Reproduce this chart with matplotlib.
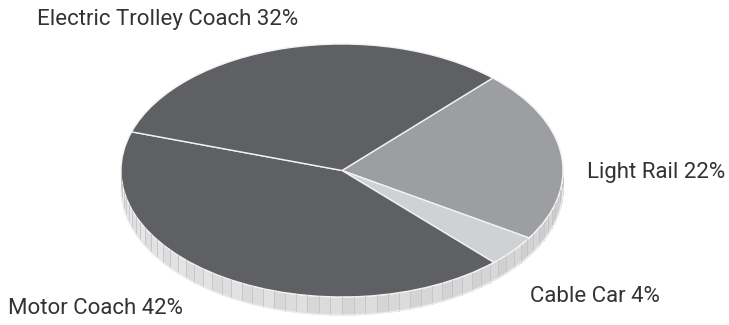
import numpy as np
import matplotlib.pyplot as plt

# ridership share by mode
modes = ['Light Rail', 'Cable Car', 'Motor Coach', 'Electric Trolley Coach']
shares = [22, 4, 42, 32]
colors = ['#9d9ea2', '#d0d1d3', '#5f6064', '#5f6064']
labels = ['Light Rail 22%', 'Cable Car 4%', 'Motor Coach 42%', 'Electric Trolley Coach 32%']
label_pos = [(587, 172), (530, 297), (8, 308), (37, 20)]  # pixels, left/center

W, H = 729, 325
cx, cy, rx, ry = 342, 170.5, 221, 126.5
depth = 18 / ry

fig = plt.figure(figsize=(W / 100, H / 100), dpi=100)
ax = fig.add_axes([0, 0, 1, 1])

# side of the disc, drawn as thin vertical panels along the front half
n_seg = 60
t = np.linspace(np.pi, 2 * np.pi, n_seg + 1)
for i in range(n_seg):
    tt = np.linspace(t[i], t[i + 1], 8)
    xs = np.cos(tt)
    top = np.sin(tt)
    shade = 0.90 - 0.09 * (i / n_seg) + 0.015 * ((i % 3) - 1)
    ax.fill_between(xs, top - depth, top, color=str(shade), lw=0)
    ax.plot([xs[0], xs[0]], [top[0] - depth, top[0]], color='#c2c2c4', lw=0.6)
# rim highlight
tt = np.linspace(np.pi, 2 * np.pi, 300)
ax.plot(np.cos(tt), np.sin(tt) - depth, color='#ececec', lw=1.0)

wedges, _ = ax.pie(shares, colors=colors, startangle=47, counterclock=False,
                   wedgeprops=dict(edgecolor='#f2f2f2', linewidth=1.0))
for w in wedges:
    w.set_joinstyle('round')

ax.set_aspect('auto')
ax.set_xlim(-cx / rx, (W - cx) / rx)
ax.set_ylim((cy - H) / ry, cy / ry)
ax.axis('off')

for lab, (px, py) in zip(labels, label_pos):
    fig.text(px / W, 1 - py / H, lab, ha='left', va='center',
             fontsize=16, family='Roboto', color='#333333')

fig.savefig('out.png', dpi=100)
